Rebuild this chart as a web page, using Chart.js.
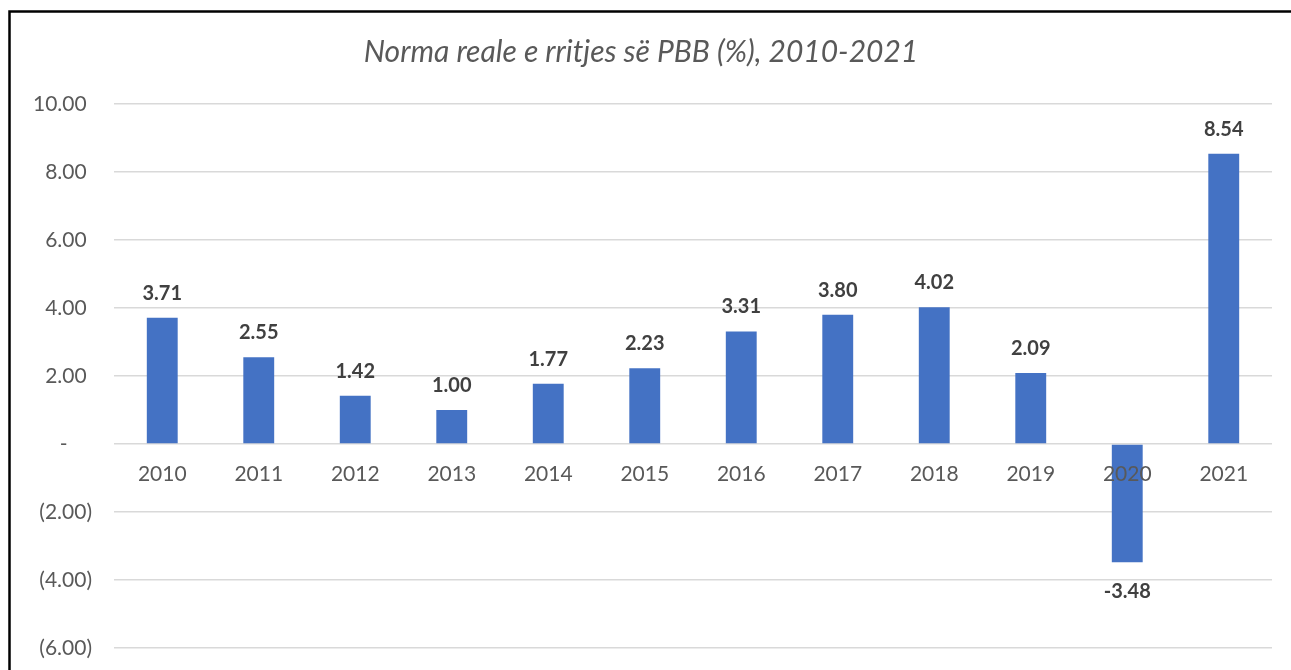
<!DOCTYPE html>
<html>
<head>
<meta charset="utf-8">
<script src="https://cdn.jsdelivr.net/npm/chart.js@4/dist/chart.umd.min.js"></script>
<style>
    body { margin: 0; background: #fff; }
    canvas { display: block; }
</style>
</head>
<body>
<canvas id="gdp-chart" width="1291" height="670"></canvas>
<script>
const years = ['2010', '2011', '2012', '2013', '2014', '2015', '2016', '2017', '2018', '2019', '2020', '2021'];
const growth = [3.71, 2.55, 1.42, 1.00, 1.77, 2.23, 3.31, 3.80, 4.02, 2.09, -3.48, 8.54];
const yMin = -6;
const yMax = 10;
const yStep = 2;
const titleText = 'Norma reale e rritjes së PBB (%), 2010-2021';

const FONT = 'Lato, "Open Sans", sans-serif';

// excel style accounting numbers: 10.00 , -, (2.00)
function accounting(v) {
    if (Math.abs(v) < 1e-9) return '-\u2007\u2007';
    if (v < 0) return '(' + Math.abs(v).toFixed(2) + ')';
    return v.toFixed(2) + ' ';
}

const frame = {
    id: 'frame',
    afterDraw(chart) {
        const ctx = chart.ctx;
        ctx.save();
        ctx.strokeStyle = '#000';
        ctx.lineWidth = 2.5;
        ctx.beginPath();
        ctx.moveTo(9.5, chart.height);
        ctx.lineTo(9.5, 11.5);
        ctx.lineTo(chart.width, 11.5);
        ctx.stroke();
        ctx.restore();
    }
};

const valueLabels = {
    id: 'valueLabels',
    afterDatasetsDraw(chart) {
        const ctx = chart.ctx;
        const meta = chart.getDatasetMeta(0);
        ctx.save();
        ctx.font = 'bold 20px ' + FONT;
        ctx.fillStyle = '#404040';
        ctx.textAlign = 'center';
        ctx.textBaseline = 'alphabetic';
        meta.data.forEach((bar, i) => {
            const v = growth[i];
            const y = v >= 0 ? bar.y - 18 : bar.y + 36;
            ctx.fillText(v.toFixed(2), bar.x, y);
        });
        ctx.restore();
    }
};

new Chart(document.getElementById('gdp-chart'), {
    type: 'bar',
    data: {
        labels: years,
        datasets: [{
            label: 'PBB',
            data: growth,
            backgroundColor: '#4472C4',
            borderWidth: 0,
            barPercentage: 0.64,
            categoryPercentage: 0.5
        }]
    },
    options: {
        responsive: false,
        animation: false,
        layout: {
            padding: {left: 10, top: 12, right: 19, bottom: 22}
        },
        plugins: {
            legend: {display: false},
            tooltip: {enabled: false},
            title: {
                display: true,
                text: titleText,
                color: '#595959',
                font: {family: FONT, size: 30, style: 'italic', weight: 'normal'},
                padding: {top: 22, bottom: 34}
            }
        },
        scales: {
            x: {
                position: {y: 0},
                z: 1,
                grid: {display: false, drawTicks: false},
                border: {display: false},
                ticks: {
                    z: 1,
                    color: '#595959',
                    font: {family: FONT, size: 21},
                    padding: 18,
                    maxRotation: 0
                }
            },
            y: {
                min: yMin,
                max: yMax,
                afterFit(scale) {
                    scale.width = 104;
                    // labels may hang over the plot edges, don't reserve room for them
                    scale.paddingTop = 0;
                    scale.paddingBottom = 0;
                },
                grid: {color: '#D9D9D9', lineWidth: 1.5, drawTicks: false},
                border: {display: false},
                ticks: {
                    stepSize: yStep,
                    color: '#595959',
                    font: {family: FONT, size: 21},
                    padding: 22,
                    callback: (v) => accounting(v)
                }
            }
        }
    },
    plugins: [frame, valueLabels]
});
</script>
</body>
</html>
